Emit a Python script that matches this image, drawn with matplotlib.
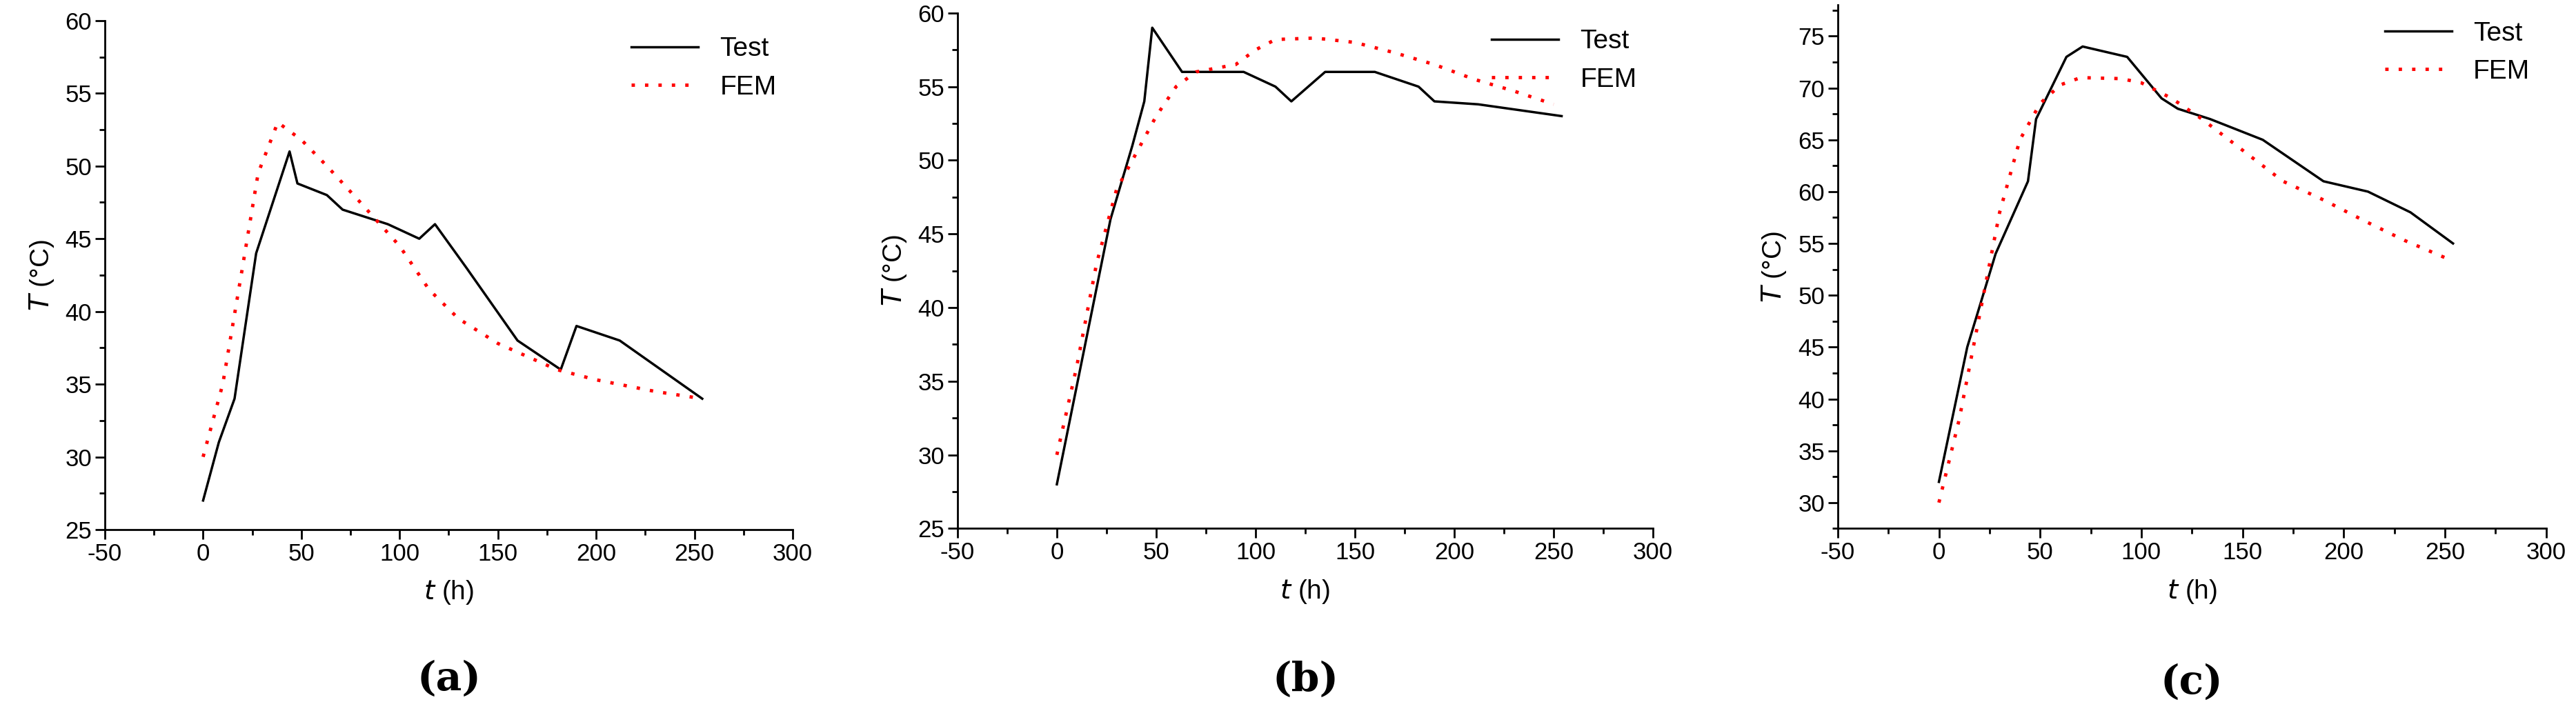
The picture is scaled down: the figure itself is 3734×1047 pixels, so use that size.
import matplotlib
matplotlib.use("Agg")
import matplotlib.pyplot as plt
from matplotlib.ticker import MultipleLocator

plt.rcParams['font.family'] = ['Liberation Sans', 'DejaVu Sans']
plt.rcParams['axes.unicode_minus'] = False

# panel (a)
a_test_t = [0, 8, 16, 27, 44, 48, 63, 71, 94, 110, 118, 134, 160, 182, 190, 212, 254]
a_test_T = [27, 31, 34, 44, 51, 48.8, 48, 47, 46, 45, 46, 43, 38, 36, 39, 38, 34]
a_fem_t = [0, 10, 20, 28, 38, 50, 63, 80, 100, 115, 130, 150, 180, 200, 230, 254]
a_fem_T = [30, 35, 43, 49.5, 53, 51.8, 50, 47.5, 44.5, 41.5, 39.5, 37.8, 36, 35.3, 34.5, 34]

# panel (b)
b_test_t = [0, 27, 38, 44, 48, 63, 94, 110, 118, 135, 160, 182, 190, 212, 254]
b_test_T = [28, 46, 51, 54, 59, 56, 56, 55, 54, 56, 56, 55, 54, 53.8, 53]
b_fem_t = [0, 10, 20, 30, 40, 50, 60, 70, 90, 100, 110, 130, 150, 170, 190, 210, 230, 250]
b_fem_T = [30, 36, 43, 48, 50.5, 53, 55, 56, 56.5, 57.5, 58.2, 58.3, 58, 57.3, 56.5, 55.5, 54.7, 53.8]

# panel (c)
c_test_t = [0, 14, 28, 44, 48, 63, 71, 93, 110, 118, 134, 160, 190, 212, 233, 254]
c_test_T = [32, 45, 54, 61, 67, 73, 74, 73, 69, 68, 67, 65, 61, 60, 58, 55]
c_fem_t = [0, 10, 20, 30, 40, 50, 60, 70, 90, 100, 115, 130, 150, 170, 190, 210, 230, 254]
c_fem_T = [30, 38, 48, 58, 65, 68.5, 70.3, 71, 70.9, 70.5, 69, 67, 64, 61, 59.2, 57.2, 55.3, 53.3]

panels = [
    ("(a)", a_test_t, a_test_T, a_fem_t, a_fem_T, (25, 60), 5, [0.0407, 0.2665, 0.267, 0.705]),
    ("(b)", b_test_t, b_test_T, b_fem_t, b_fem_T, (25, 60), 5, [0.3717, 0.268, 0.270, 0.714]),
    ("(c)", c_test_t, c_test_T, c_fem_t, c_fem_T, (27.5, 78), 5, [0.7134, 0.268, 0.275, 0.725]),
]

fig = plt.figure(figsize=(37.34, 10.47), dpi=100)
for cap, tt, tT, ft, fT, ylim, ystep, pos in panels:
    ax = fig.add_axes(pos)
    ax.plot(tt, tT, color='black', lw=2.5, label='Test')
    ax.plot(ft, fT, color='red', lw=3.5, ls=(0, (1, 3)), label='FEM')
    ax.set_xlim(-50, 300)
    ax.set_ylim(*ylim)
    ax.xaxis.set_major_locator(MultipleLocator(50))
    ax.xaxis.set_minor_locator(MultipleLocator(25))
    ax.yaxis.set_major_locator(MultipleLocator(ystep))
    ax.yaxis.set_minor_locator(MultipleLocator(ystep / 2))
    for s in ['top', 'right']:
        ax.spines[s].set_visible(False)
    for s in ['left', 'bottom']:
        ax.spines[s].set_linewidth(2)
    ax.tick_params(which='major', length=10, width=2, labelsize=25)
    ax.tick_params(which='minor', length=6, width=2)
    ax.set_xlabel(r'$t$ (h)', fontsize=28, labelpad=14)
    ax.set_ylabel(r'$T$ (°C)', fontsize=28, labelpad=10)
    ax.legend(loc='upper right', frameon=False, fontsize=28, handlelength=2.5,
              borderaxespad=0.2)
    ax.text(0.5, -0.294, cap, transform=ax.transAxes, ha='center', va='center',
            fontsize=42, family='DejaVu Serif', fontweight='bold')

fig.savefig('out.png', dpi=100)
